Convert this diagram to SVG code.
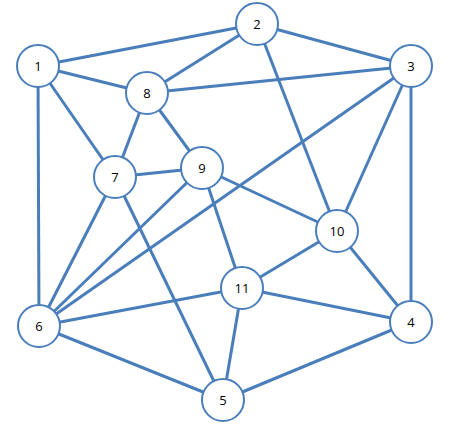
<svg xmlns="http://www.w3.org/2000/svg" width="457" height="436" viewBox="0 0 457 436">
<style>
.e{stroke:#4a7ebb;stroke-width:3;stroke-linecap:butt}
.n circle{fill:#fff;stroke:#4a7ebb;stroke-width:2}
.n text{font-family:"Open Sans","Liberation Sans",sans-serif;font-size:13px;fill:#000;text-anchor:middle;dominant-baseline:central}
</style>
<rect width="457" height="436" fill="#fff"/>
<g id="edges">
<line class="e" x1="38" y1="66" x2="257" y2="24"/>
<line class="e" x1="257" y1="24" x2="411" y2="66"/>
<line class="e" x1="257" y1="24" x2="147" y2="93"/>
<line class="e" x1="257" y1="24" x2="337" y2="231"/>
<line class="e" x1="38" y1="66" x2="147" y2="93"/>
<line class="e" x1="38" y1="66" x2="115" y2="177"/>
<line class="e" x1="38" y1="66" x2="39" y2="326"/>
<line class="e" x1="147" y1="93" x2="411" y2="66"/>
<line class="e" x1="147" y1="93" x2="115" y2="177"/>
<line class="e" x1="147" y1="93" x2="202" y2="168"/>
<line class="e" x1="115" y1="177" x2="202" y2="168"/>
<line class="e" x1="115" y1="177" x2="39" y2="326"/>
<line class="e" x1="115" y1="177" x2="223" y2="400"/>
<line class="e" x1="202" y1="168" x2="39" y2="326"/>
<line class="e" x1="202" y1="168" x2="337" y2="231"/>
<line class="e" x1="202" y1="168" x2="242" y2="288"/>
<line class="e" x1="411" y1="66" x2="39" y2="326"/>
<line class="e" x1="411" y1="66" x2="337" y2="231"/>
<line class="e" x1="411" y1="66" x2="411" y2="322"/>
<line class="e" x1="337" y1="231" x2="242" y2="288"/>
<line class="e" x1="337" y1="231" x2="411" y2="322"/>
<line class="e" x1="242" y1="288" x2="39" y2="326"/>
<line class="e" x1="242" y1="288" x2="411" y2="322"/>
<line class="e" x1="242" y1="288" x2="223" y2="400"/>
<line class="e" x1="39" y1="326" x2="223" y2="400"/>
<line class="e" x1="223" y1="400" x2="411" y2="322"/>
</g>
<g id="n1" class="n"><circle cx="38" cy="66" r="21"/><text x="38" y="66">1</text></g>
<g id="n2" class="n"><circle cx="257" cy="24" r="21"/><text x="257" y="24">2</text></g>
<g id="n3" class="n"><circle cx="411" cy="66" r="21"/><text x="411" y="66">3</text></g>
<g id="n4" class="n"><circle cx="411" cy="322" r="21"/><text x="411" y="322">4</text></g>
<g id="n5" class="n"><circle cx="223" cy="400" r="21"/><text x="223" y="400">5</text></g>
<g id="n6" class="n"><circle cx="39" cy="326" r="21"/><text x="39" y="326">6</text></g>
<g id="n7" class="n"><circle cx="115" cy="177" r="21"/><text x="115" y="177">7</text></g>
<g id="n8" class="n"><circle cx="147" cy="93" r="21"/><text x="147" y="93">8</text></g>
<g id="n9" class="n"><circle cx="202" cy="168" r="21"/><text x="202" y="168">9</text></g>
<g id="n10" class="n"><circle cx="337" cy="231" r="21"/><text x="337" y="231">10</text></g>
<g id="n11" class="n"><circle cx="242" cy="288" r="21"/><text x="242" y="288">11</text></g>
</svg>
